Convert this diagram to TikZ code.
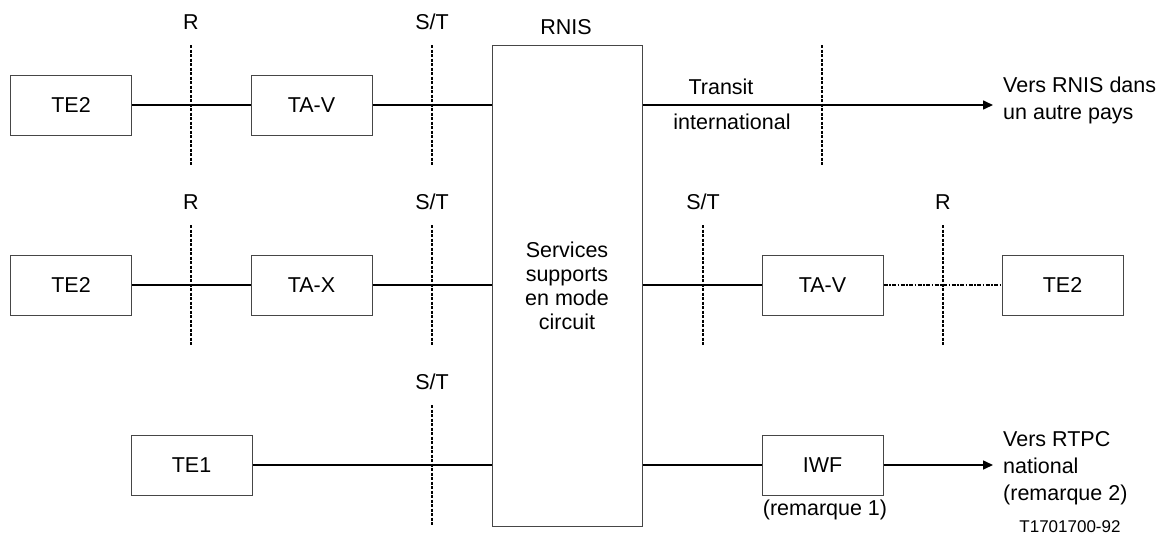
\documentclass[tikz,border=0pt]{standalone}
\usepackage{fontspec}
\setmainfont{Liberation Sans}
\usepackage{tikz}
\usetikzlibrary{positioning,arrows.meta,calc}
\definecolor{boxgray}{RGB}{70, 70, 70}

\begin{document}
\begin{tikzpicture}[x=1pt, y=-1pt,
    unit/.style={rectangle, draw=boxgray, line width=1pt, minimum width=121pt, minimum height=60pt, inner sep=0pt, font=\fontsize{21.5}{24}\selectfont},
    network/.style={rectangle, draw=boxgray, line width=1pt, minimum width=150pt, minimum height=481pt, inner sep=0pt, align=center, font=\fontsize{21.5}{24}\selectfont},
    lbl/.style={inner sep=0pt, align=left, font=\fontsize{21.5}{27}\selectfont},
    link/.style={-, line width=1.6pt, black},
    outlink/.style={-{Triangle[length=10pt,width=9pt]}, line width=1.6pt, black},
    dotlink/.style={-, line width=1.2pt, black, dash pattern=on 4pt off 1.5pt on 1.5pt off 1.5pt},
    refline/.style={line width=1.6pt, black, dash pattern=on 3pt off 1.5pt}
]
\useasboundingbox (0,0) rectangle (1168,536);
\node[network] (rnis) at (567,285.5) {Services\\supports\\en mode\\circuit};
\node[lbl] (rnislbl) at (566,27) {RNIS};
% first row
\node[unit] (te2a) at (71,105)    {TE2};
\node[unit] (tava) at (311.5,105) {TA-V};
\draw[link] (te2a.east) -- (tava.west);
\draw[link] (tava.east) -- (tava.east -| rnis.west);
\coordinate (torn) at (993,105);
\draw[outlink] (tava.east -| rnis.east) -- (torn);
\node[lbl] (transit) at (721,87)  {Transit};
\node[lbl] (intl)    at (732,122) {international};
\node[lbl, anchor=west] (versrnis) at (1003,100) {Vers RNIS dans\\un autre pays};
\node[lbl] (ra) at (191,22) {R};
\node[lbl] (sa) at (432,22) {S/T};
\draw[refline] (191,45) -- (191,165);
\draw[refline] (432,45) -- (432,165);
\draw[refline] (822,45) -- (822,165);
% second row
\node[unit] (te2b) at (71,285)     {TE2};
\node[unit] (tax)  at (311.5,285)  {TA-X};
\node[unit] (tavb) at (822.5,285)  {TA-V};
\node[unit] (te2c) at (1062.5,285) {TE2};
\draw[link] (te2b.east) -- (tax.west);
\draw[link] (tax.east) -- (tax.east -| rnis.west);
\draw[link] (tavb.west -| rnis.east) -- (tavb.west);
\draw[dotlink] (tavb.east) -- (te2c.west);
\node[lbl] (rb)  at (191,202) {R};
\node[lbl] (sb)  at (432,202) {S/T};
\node[lbl] (sc)  at (703,202) {S/T};
\node[lbl] (rc)  at (943,202) {R};
\draw[refline] (191,225) -- (191,345);
\draw[refline] (432,225) -- (432,345);
\draw[refline] (703,225) -- (703,345);
\draw[refline] (943,225) -- (943,345);
% third row
\node[unit] (te1) at (191.5,465) {TE1};
\node[unit] (iwf) at (822.5,465) {IWF};
\draw[link] (te1.east) -- (te1.east -| rnis.west);
\draw[link] (iwf.west -| rnis.east) -- (iwf.west);
\coordinate (topstn) at (993,465);
\draw[outlink] (iwf.east) -- (topstn);
\node[lbl] (sd) at (432,382) {S/T};
\draw[refline] (432,405) -- (432,525);
\node[lbl] (rem1) at (825,510) {(remarque 1)};
\node[lbl, anchor=west] (versrtpc) at (1003,468) {Vers RTPC\\national\\(remarque 2)};
\node[lbl, font=\fontsize{17}{20}\selectfont] (figno) at (1070,527) {T1701700-92};
\end{tikzpicture}
\end{document}
